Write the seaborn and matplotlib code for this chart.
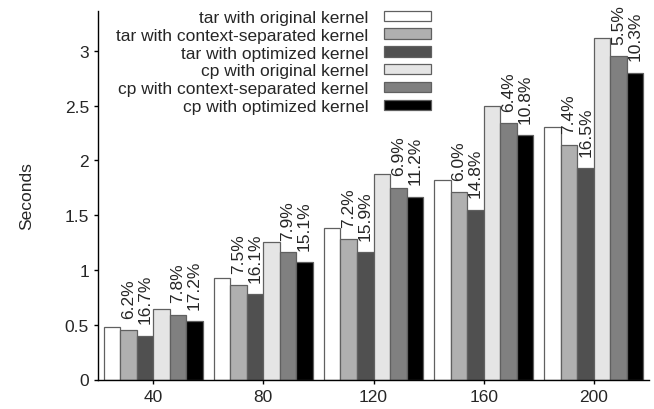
import pandas as pd
import numpy as np
import matplotlib
matplotlib.use('Agg')
import matplotlib.pyplot as plt
from matplotlib.ticker import MultipleLocator, FormatStrFormatter
import seaborn as sns

# Data
sizes = ['40', '80', '120', '160', '200']
series = ['tar with original kernel', 'tar with context-separated kernel',
          'tar with optimized kernel', 'cp with original kernel',
          'cp with context-separated kernel', 'cp with optimized kernel']
tar_orig = [0.48, 0.93, 1.38, 1.82, 2.31]
tar_ctx = [0.45, 0.86, 1.28, 1.71, 2.14]
tar_opt = [0.40, 0.78, 1.16, 1.55, 1.93]
cp_orig = [0.64, 1.26, 1.88, 2.50, 3.12]
cp_ctx = [0.59, 1.16, 1.75, 2.34, 2.95]
cp_opt = [0.53, 1.07, 1.67, 2.23, 2.80]

# reduction labels (context-separated, optimized) per tool
tar_pct_ctx = ['6.2%', '7.5%', '7.2%', '6.0%', '7.4%']
tar_pct_opt = ['16.7%', '16.1%', '15.9%', '14.8%', '16.5%']
cp_pct_ctx = ['7.8%', '7.9%', '6.9%', '6.4%', '5.5%']
cp_pct_opt = ['17.2%', '15.1%', '11.2%', '10.8%', '10.3%']

colors = ['#ffffff', '#b0b0b0', '#505050', '#e5e5e5', '#808080', '#000000']

all_vals = [tar_orig, tar_ctx, tar_opt, cp_orig, cp_ctx, cp_opt]
rows = []
for name, vals in zip(series, all_vals):
    for s, v in zip(sizes, vals):
        rows.append({'size': s, 'series': name, 'seconds': v})
df = pd.DataFrame(rows)

sns.set_style('ticks')
plt.rcParams['font.family'] = ['Liberation Sans', 'DejaVu Sans']
plt.rcParams['font.size'] = 12.5

fig = plt.figure(figsize=(6.54, 4.10), dpi=100)
ax = fig.add_axes([98 / 654, 1 - 380.5 / 410, 551 / 654, 368.5 / 410])

sns.barplot(data=df, x='size', y='seconds', hue='series', hue_order=series,
            order=sizes, palette=colors, width=0.9, gap=0, legend=False,
            edgecolor='#606060', linewidth=0.9, ax=ax)

ax.set_xlim(-0.5, 4.5)
ax.set_ylim(0, 3.365)
ax.yaxis.set_major_locator(MultipleLocator(0.5))
ax.yaxis.set_major_formatter(FormatStrFormatter('%g'))
ax.set_xlabel('')
ax.set_ylabel('Seconds', fontsize=12.5, labelpad=22)
ax.tick_params(axis='both', labelsize=12.5, length=3, width=1, color='black')
sns.despine(ax=ax)
for sp in ['left', 'bottom']:
    ax.spines[sp].set_linewidth(1.0)
    ax.spines[sp].set_color('black')

# percentage labels above the context-separated and optimized bars
label_sets = {1: tar_pct_ctx, 2: tar_pct_opt, 4: cp_pct_ctx, 5: cp_pct_opt}
for idx, labels in label_sets.items():
    cont = ax.containers[idx]
    for bar, lab in zip(cont.patches, labels):
        x = bar.get_x() + bar.get_width() / 2
        y = bar.get_height()
        ax.annotate(lab, (x, y), xytext=(0, 9), textcoords='offset points',
                    rotation=90, ha='center', va='bottom', fontsize=12.5)

handles = [c for c in ax.containers]
fig.legend(handles, series, loc='upper right',
           bbox_to_anchor=(431 / 654, 1 - 11 / 410), frameon=False,
           markerfirst=False, borderpad=0, borderaxespad=0,
           handlelength=2.7, handleheight=0.55, handletextpad=0.9,
           labelspacing=0.16, fontsize=12.5)

fig.savefig('out.png', dpi=100)
